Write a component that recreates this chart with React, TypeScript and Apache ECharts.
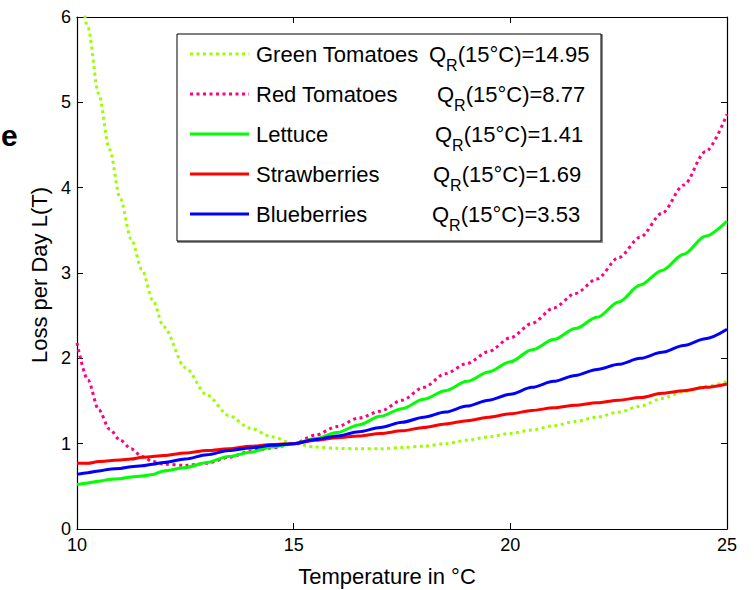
import React, { useEffect, useRef } from "react";
import * as echarts from "echarts";

const temps = [10, 10.25, 10.5, 10.75, 11, 11.25, 11.5, 11.75, 12, 12.5, 13, 13.5, 14, 14.5, 15, 15.5, 16, 16.5, 17, 17.5, 18, 18.5, 19, 19.5, 20, 20.5, 21, 21.5, 22, 22.5, 23, 23.5, 24, 24.5, 25];

const greenTomatoes = [6.7, 5.88, 5.1, 4.45, 3.87, 3.4, 3.04, 2.68, 2.37, 1.89, 1.57, 1.33, 1.18, 1.08, 1.0, 0.96, 0.945, 0.94, 0.94, 0.955, 0.97, 1.0, 1.04, 1.08, 1.12, 1.16, 1.21, 1.26, 1.31, 1.37, 1.44, 1.53, 1.61, 1.67, 1.73];
const redTomatoes = [2.18, 1.75, 1.4, 1.17, 1.04, 0.94, 0.85, 0.79, 0.76, 0.745, 0.77, 0.84, 0.91, 0.95, 1.0, 1.1, 1.2, 1.3, 1.38, 1.51, 1.66, 1.82, 1.94, 2.08, 2.24, 2.41, 2.59, 2.76, 2.93, 3.18, 3.42, 3.7, 4.03, 4.42, 4.86];
const lettuce = [0.52, 0.54, 0.56, 0.58, 0.59, 0.61, 0.62, 0.64, 0.68, 0.72, 0.78, 0.85, 0.9, 0.96, 1.0, 1.06, 1.13, 1.22, 1.32, 1.41, 1.52, 1.62, 1.73, 1.84, 1.96, 2.1, 2.22, 2.35, 2.48, 2.66, 2.86, 3.03, 3.22, 3.43, 3.61];
const strawberries = [0.77, 0.77, 0.79, 0.8, 0.81, 0.82, 0.84, 0.85, 0.86, 0.89, 0.92, 0.94, 0.97, 0.99, 1.0, 1.04, 1.07, 1.09, 1.12, 1.15, 1.19, 1.23, 1.27, 1.31, 1.35, 1.39, 1.42, 1.45, 1.48, 1.51, 1.54, 1.59, 1.62, 1.66, 1.7];
const blueberries = [0.64, 0.66, 0.68, 0.7, 0.71, 0.73, 0.74, 0.76, 0.78, 0.82, 0.87, 0.92, 0.95, 0.98, 1.0, 1.05, 1.09, 1.14, 1.19, 1.25, 1.31, 1.37, 1.44, 1.51, 1.58, 1.66, 1.73, 1.8, 1.87, 1.93, 2.0, 2.07, 2.15, 2.23, 2.34];

const seriesNames = ["Green Tomatoes", "Red Tomatoes", "Lettuce", "Strawberries", "Blueberries"];
const qrLabels = ["14.95", "8.77", "1.41", "1.69", "3.53"];
const seriesColors = ["#99ff00", "#ff0080", "#00ff00", "#ff0000", "#0000ff"];
const seriesDotted = [true, true, false, false, false];
const seriesValues = [greenTomatoes, redTomatoes, lettuce, strawberries, blueberries];

const FONT = "'Liberation Sans', Arial, Helvetica, sans-serif";

export default function App() {
  const ref = useRef<HTMLDivElement>(null);

  useEffect(() => {
    if (!ref.current) return;
    const chart = echarts.init(ref.current, null, { renderer: "svg" });

    const dotted = [3, 3.5];
    const series = seriesValues.map((vals, i) => ({
      name: seriesNames[i],
      type: "line",
      data: temps.map((t, j) => [t, vals[j]]),
      showSymbol: false,
      smooth: 0.3,
      smoothMonotone: "x",
      clip: true,
      lineStyle: {
        color: seriesColors[i],
        width: 3,
        type: seriesDotted[i] ? dotted : "solid",
        cap: "butt",
      },
      xAxisIndex: 0,
      yAxisIndex: 0,
      z: 2 + i,
    }));

    const rowY = [54, 94, 134, 174, 214];
    const qrX = [429, 437, 435, 433, 432];
    const legendGraphics: any[] = [
      {
        type: "rect",
        shape: { x: 178, y: 35, width: 424, height: 207 },
        style: { fill: "none", stroke: "#666", lineWidth: 1.5 },
        z: 9,
      },
      {
        type: "rect",
        shape: { x: 177, y: 34, width: 424, height: 207 },
        style: { fill: "#fff", stroke: "#000", lineWidth: 1 },
        z: 10,
      },
    ];
    seriesNames.forEach((n, i) => {
      legendGraphics.push({
        type: "line",
        shape: { x1: 190, y1: rowY[i], x2: 249, y2: rowY[i] },
        style: {
          stroke: seriesColors[i],
          lineWidth: 3,
          lineDash: seriesDotted[i] ? dotted : null,
        },
        z: 11,
      });
      legendGraphics.push({
        type: "text",
        x: 256,
        y: rowY[i],
        style: {
          text: n,
          fontSize: 22,
          fontFamily: FONT,
          fill: "#000",
          verticalAlign: "middle",
          align: "left",
        },
        z: 11,
      });
      legendGraphics.push({
        type: "text",
        x: qrX[i],
        y: rowY[i],
        style: {
          text: `{a|Q}{s|R}{a|(15°C)=${qrLabels[i]}}`,
          fontFamily: FONT,
          fill: "#000",
          verticalAlign: "middle",
          align: "left",
          rich: {
            a: { fontSize: 22, fontFamily: FONT, fill: "#000", verticalAlign: "middle" },
            s: { fontSize: 16, fontFamily: FONT, fill: "#000", padding: [22, 0, 0, 0], verticalAlign: "middle" },
          },
        },
        z: 11,
      });
    });

    const axisCommon = {
      axisLine: { show: true, onZero: false, lineStyle: { color: "#000", width: 1.2 } },
      axisTick: { show: true, inside: true, length: 6, lineStyle: { color: "#000", width: 1 } },
      splitLine: { show: false },
    };

    const option: any = {
      animation: false,
      backgroundColor: "#fff",
      grid: { left: 77, right: 27, top: 17, bottom: 61, containLabel: false },
      xAxis: [
        {
          type: "value",
          min: 10,
          max: 25,
          interval: 5,
          position: "bottom",
          ...axisCommon,
          axisLabel: { fontSize: 18, color: "#000", fontFamily: FONT, margin: 9, lineHeight: 14 },
        },
        {
          type: "value",
          min: 10,
          max: 25,
          interval: 5,
          position: "top",
          ...axisCommon,
          axisLabel: { show: false },
        },
      ],
      yAxis: [
        {
          type: "value",
          min: 0,
          max: 6,
          interval: 1,
          position: "left",
          ...axisCommon,
          axisLabel: { fontSize: 18, color: "#000", fontFamily: FONT, margin: 6, lineHeight: 12 },
        },
        {
          type: "value",
          min: 0,
          max: 6,
          interval: 1,
          position: "right",
          ...axisCommon,
          axisLabel: { show: false },
        },
      ],
      series,
      graphic: [
        {
          type: "text",
          x: 1,
          y: 135,
          style: {
            text: "e",
            fontSize: 30,
            fontWeight: "bold",
            fontFamily: FONT,
            fill: "#000",
            verticalAlign: "middle",
            align: "left",
          },
        },
        {
          type: "text",
          x: 387,
          y: 576,
          style: {
            text: "Temperature in °C",
            fontSize: 22,
            fontFamily: FONT,
            fill: "#000",
            verticalAlign: "middle",
            align: "center",
          },
        },
        {
          type: "text",
          x: 39,
          y: 275,
          rotation: Math.PI / 2,
          style: {
            text: "Loss per Day L(T)",
            fontSize: 22,
            fontFamily: FONT,
            fill: "#000",
            verticalAlign: "middle",
            align: "center",
          },
        },
        ...legendGraphics,
      ],
    };

    chart.setOption(option);
    return () => chart.dispose();
  }, []);

  return (
    <div
      ref={ref}
      style={{ position: "absolute", left: 0, top: 0, width: 754, height: 590, background: "#fff" }}
    />
  );
}
